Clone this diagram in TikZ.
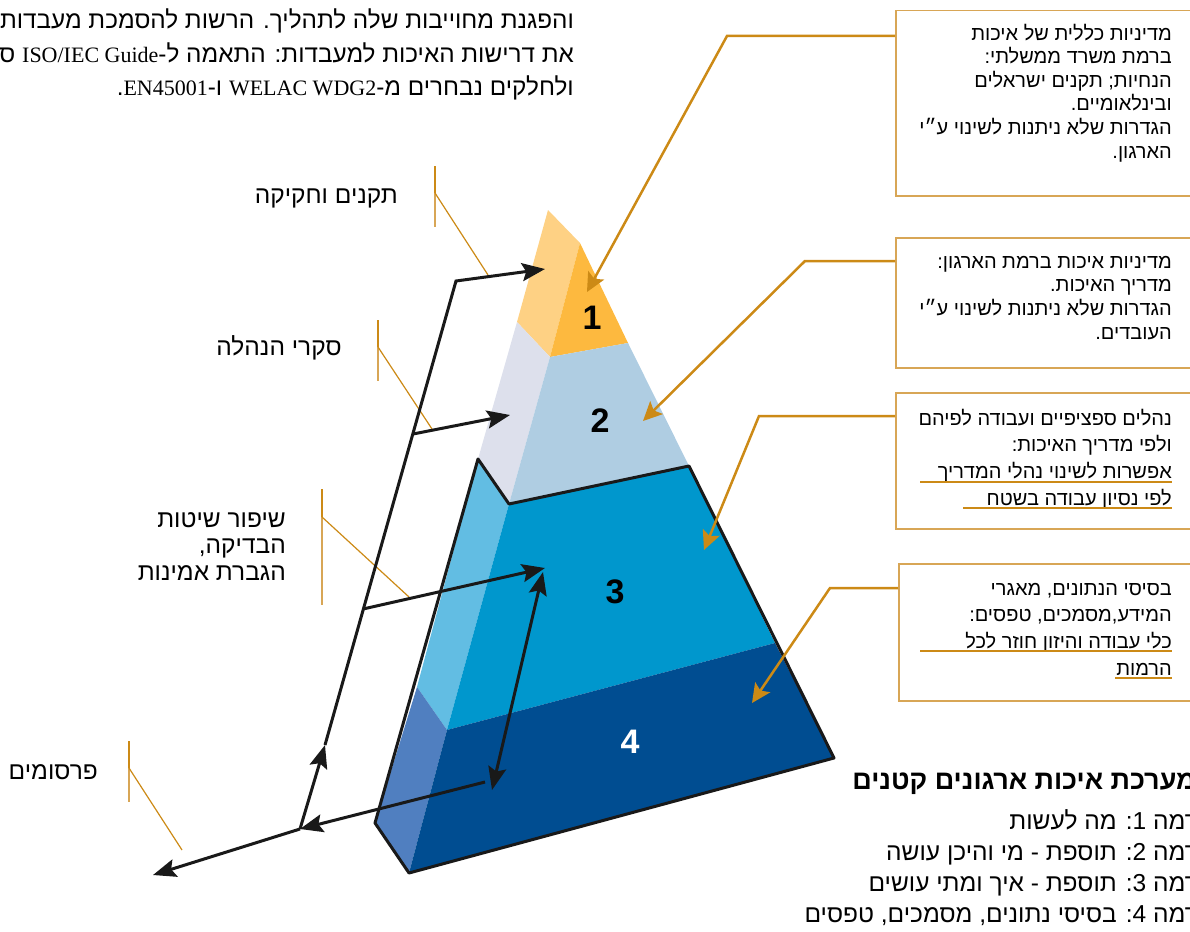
\documentclass[tikz,border=0pt]{standalone}
\usepackage{fontspec}
\setmainfont{Liberation Sans}
\newfontfamily\hebfont[Script=Hebrew]{Liberation Sans}
\newfontfamily\latfont{Liberation Serif}
\TeXXeTstate=1
\usetikzlibrary{arrows.meta,calc}
\definecolor{gold}    {RGB}{204,138,22}
\definecolor{goldlt}  {RGB}{216,166,86}
\definecolor{facea}   {RGB}{254,209,132}
\definecolor{fronta}  {RGB}{253,185,63}
\definecolor{faceb}   {RGB}{221,224,236}
\definecolor{frontb}  {RGB}{175,205,226}
\definecolor{facec}   {RGB}{98,189,227}
\definecolor{frontc}  {RGB}{0,151,205}
\definecolor{faced}   {RGB}{80,127,192}
\definecolor{frontd}  {RGB}{0,77,145}

\begin{document}
\begin{tikzpicture}[x=1pt,y=-1pt,
          note/.style={font=\hebfont\fontsize{20}{23.6}\selectfont,align=right,inner sep=0pt,anchor=base east},
          notew/.style={note,font=\hebfont\fontsize{20}{26.6}\selectfont},
          lbl/.style={font=\hebfont\fontsize{24.5}{26.5}\selectfont,align=right,inner sep=0pt,anchor=base east},
          para/.style={font=\hebfont\fontsize{24.3}{33.5}\selectfont,align=right,inner sep=0pt,anchor=base east},
          callout/.style={draw=goldlt,line width=1.5pt,minimum width=320,anchor=north west,inner sep=0pt},
          lead/.style={-{Stealth[length=19pt,width=18pt,inset=4pt]},gold,line width=2.5pt},
          bar/.style={goldlt,line width=2pt},
          tick/.style={gold,line width=1.2pt},
          uline/.style={gold,line width=1.5pt},
          flow/.style={-{Stealth[length=23pt,width=18pt,inset=4pt]},black!90,line width=3pt},
          rim/.style={black!90,line width=3pt,line join=round},
          lvl/.style={font=\bfseries\fontsize{34}{34}\selectfont,inner sep=0pt}
      ]
        \useasboundingbox (0,0) rectangle (1190,931);
        \coordinate (apex) at (548,210); \coordinate (r1) at (580,243);
        \coordinate (r2)   at (628,343); \coordinate (m1) at (550,357);
        \coordinate (l1)   at (517,322); \coordinate (l2) at (478,459);
        \coordinate (m2)   at (509,504); \coordinate (r3) at (689,466);
        \coordinate (l3)   at (417,687); \coordinate (m3) at (447,730);
        \coordinate (r4)   at (775,643); \coordinate (l4) at (375,823);
        \coordinate (m4)   at (409,873); \coordinate (r5) at (834,758);
        \fill[facea]  (apex) -- (r1) -- (m1) -- (l1) -- cycle;
        \fill[fronta] (r1) -- (r2) -- (m1) -- cycle;
        \fill[faceb]  (l1) -- (m1) -- (m2) -- (l2) -- cycle;
        \fill[frontb] (m1) -- (r2) -- (r3) -- (m2) -- cycle;
        \fill[facec]  (l2) -- (m2) -- (m3) -- (l3) -- cycle;
        \fill[frontc] (m2) -- (r3) -- (r4) -- (m3) -- cycle;
        \fill[faced]  (l3) -- (m3) -- (m4) -- (l4) -- cycle;
        \fill[frontd] (m3) -- (r4) -- (r5) -- (m4) -- cycle;
        \draw[rim] (l2) -- (m2) -- (r3) -- (r5) -- (m4) -- (l4) -- cycle;
        \node[lvl]       (n1) at (592,318) {1};
        \node[lvl]       (n2) at (600,421) {2};
        \node[lvl]       (n3) at (615,592) {3};
        \node[lvl,white] (n4) at (630,742) {4};

        \node[para] (intro) at (574,96) {\beginR והפגנת מחוייבות שלה לתהליך. הרשות להסמכת מעבדות\endR\\
          \beginR את דרישות האיכות למעבדות: התאמה ל-\beginL{\latfont\fontsize{22}{22}\selectfont ISO/IEC Guide}\endL{} ס\endR\\
          \beginR ולחלקים נבחרים מ-\beginL{\latfont\fontsize{22}{22}\selectfont WELAC WDG2}\endL{} ו-\beginL{\latfont\fontsize{22}{22}\selectfont EN45001}\endL.\endR};

        \node[callout,minimum height=185] (b1) at (895,10)  {};
        \node[callout,minimum height=130] (b2) at (895,237) {};
        \node[callout,minimum height=136] (b3) at (895,392) {};
        \node[callout,minimum height=137] (b4) at (898,563) {};
        \node[note] (t1) at (1172,158) {\beginR מדיניות כללית של איכות\endR\\ \beginR ברמת משרד ממשלתי:\endR\\
          \beginR הנחיות; תקנים ישראלים\endR\\ \beginR ובינלאומיים.\endR\\
          \beginR הגדרות שלא ניתנות לשינוי ע״י\endR\\ \beginR הארגון.\endR};
        \node[note] (t2) at (1172,339) {\beginR מדיניות איכות ברמת הארגון:\endR\\ \beginR מדריך האיכות.\endR\\
          \beginR הגדרות שלא ניתנות לשינוי ע״י\endR\\ \beginR העובדים.\endR};
        \node[notew] (t3) at (1172,505) {\beginR נהלים ספציפיים ועבודה לפיהם\endR\\ \beginR ולפי מדריך האיכות:\endR\\
          \beginR אפשרות לשינוי נהלי המדריך\endR\\ \beginR לפי נסיון עבודה בשטח\endR};
        \node[notew] (t4) at (1172,675) {\beginR בסיסי הנתונים, מאגרי\endR\\ \beginR המידע,מסמכים, טפסים:\endR\\
          \beginR כלי עבודה והיזון חוזר לכל\endR\\ \beginR הרמות\endR};
        \draw[uline] (920,482) -- (1172,482);  \draw[uline] (963,508) -- (1172,508);
        \draw[uline] (920,651) -- (1172,651);  \draw[uline] (1115,678) -- (1172,678);

        \coordinate (k1) at (727,36);  \coordinate (p1) at (587,292);
        \coordinate (k2) at (805,261); \coordinate (p2) at (643,421);
        \coordinate (k3) at (759,416); \coordinate (p3) at (704,550);
        \coordinate (k4) at (830,588); \coordinate (p4) at (752,703);
        \draw[lead] (b1.west |- k1) -- (k1) -- (p1);
        \draw[lead] (b2.west |- k2) -- (k2) -- (p2);
        \draw[lead] (b3.west |- k3) -- (k3) -- (p3);
        \draw[lead] (b4.west |- k4) -- (k4) -- (p4);

        \node[lbl] (s1) at (398,203) {\beginR תקנים וחקיקה\endR};
        \node[lbl] (s2) at (342,355) {\beginR סקרי הנהלה\endR};
        \node[lbl] (s3) at (286,580) {\beginR שיפור שיטות\endR\\ \beginR הבדיקה,\endR\\ \beginR הגברת אמינות\endR};
        \node[lbl] (s4) at (98,779)  {\beginR פרסומים\endR};
        \draw[tick] (435,166) -- (435,193); \draw[bar] (435,193) -- (435,227); \draw[tick] (435,193) -- (488,275);
        \draw[tick] (378,320) -- (378,347); \draw[bar] (378,347) -- (378,381); \draw[tick] (378,347) -- (432,429);
        \draw[tick] (322,489) -- (322,517); \draw[bar] (322,517) -- (322,605); \draw[tick] (322,517) -- (409,597);
        \draw[tick] (129,741) -- (129,768); \draw[bar] (129,768) -- (129,802); \draw[tick] (129,768) -- (182,850);

        \coordinate (hub) at (300,829); \coordinate (up)  at (325,745);
        \coordinate (top) at (456,281); \coordinate (a1)  at (545,269);
        \coordinate (j2)  at (413,434); \coordinate (a2)  at (510,415);
        \coordinate (j3)  at (363,609); \coordinate (a3)  at (545,568);
        \coordinate (d1)  at (543,572); \coordinate (d2)  at (492,790);
        \coordinate (f4)  at (485,782); \coordinate (out) at (153,875);
        \draw[flow] (f4) -- (hub);
        \draw[flow] (hub) -- (out);
        \draw[flow] (hub) -- (up);
        \draw[flow] (up) -- (top) -- (a1);
        \draw[flow] (j2) -- (a2);
        \draw[flow] (j3) -- (a3);
        \draw[flow,{Stealth[length=23pt,width=18pt,inset=4pt]}-{Stealth[length=23pt,width=18pt,inset=4pt]}] (d1) -- (d2);

        \node[font=\hebfont\bfseries\fontsize{27}{27}\selectfont,anchor=base east,inner sep=0pt] (head) at (1196,789)
          {\beginR מערכת איכות ארגונים קטנים\endR};
        \node[para,font=\hebfont\fontsize{24.5}{31}\selectfont] (steps) at (1198,922) {\beginR רמה 1: מה לעשות\endR\\
          \beginR רמה 2: תוספת - מי והיכן עושה\endR\\ \beginR רמה 3: תוספת - איך ומתי עושים\endR\\
          \beginR רמה 4: בסיסי נתונים, מסמכים, טפסים\endR};
      \end{tikzpicture}
\end{document}
